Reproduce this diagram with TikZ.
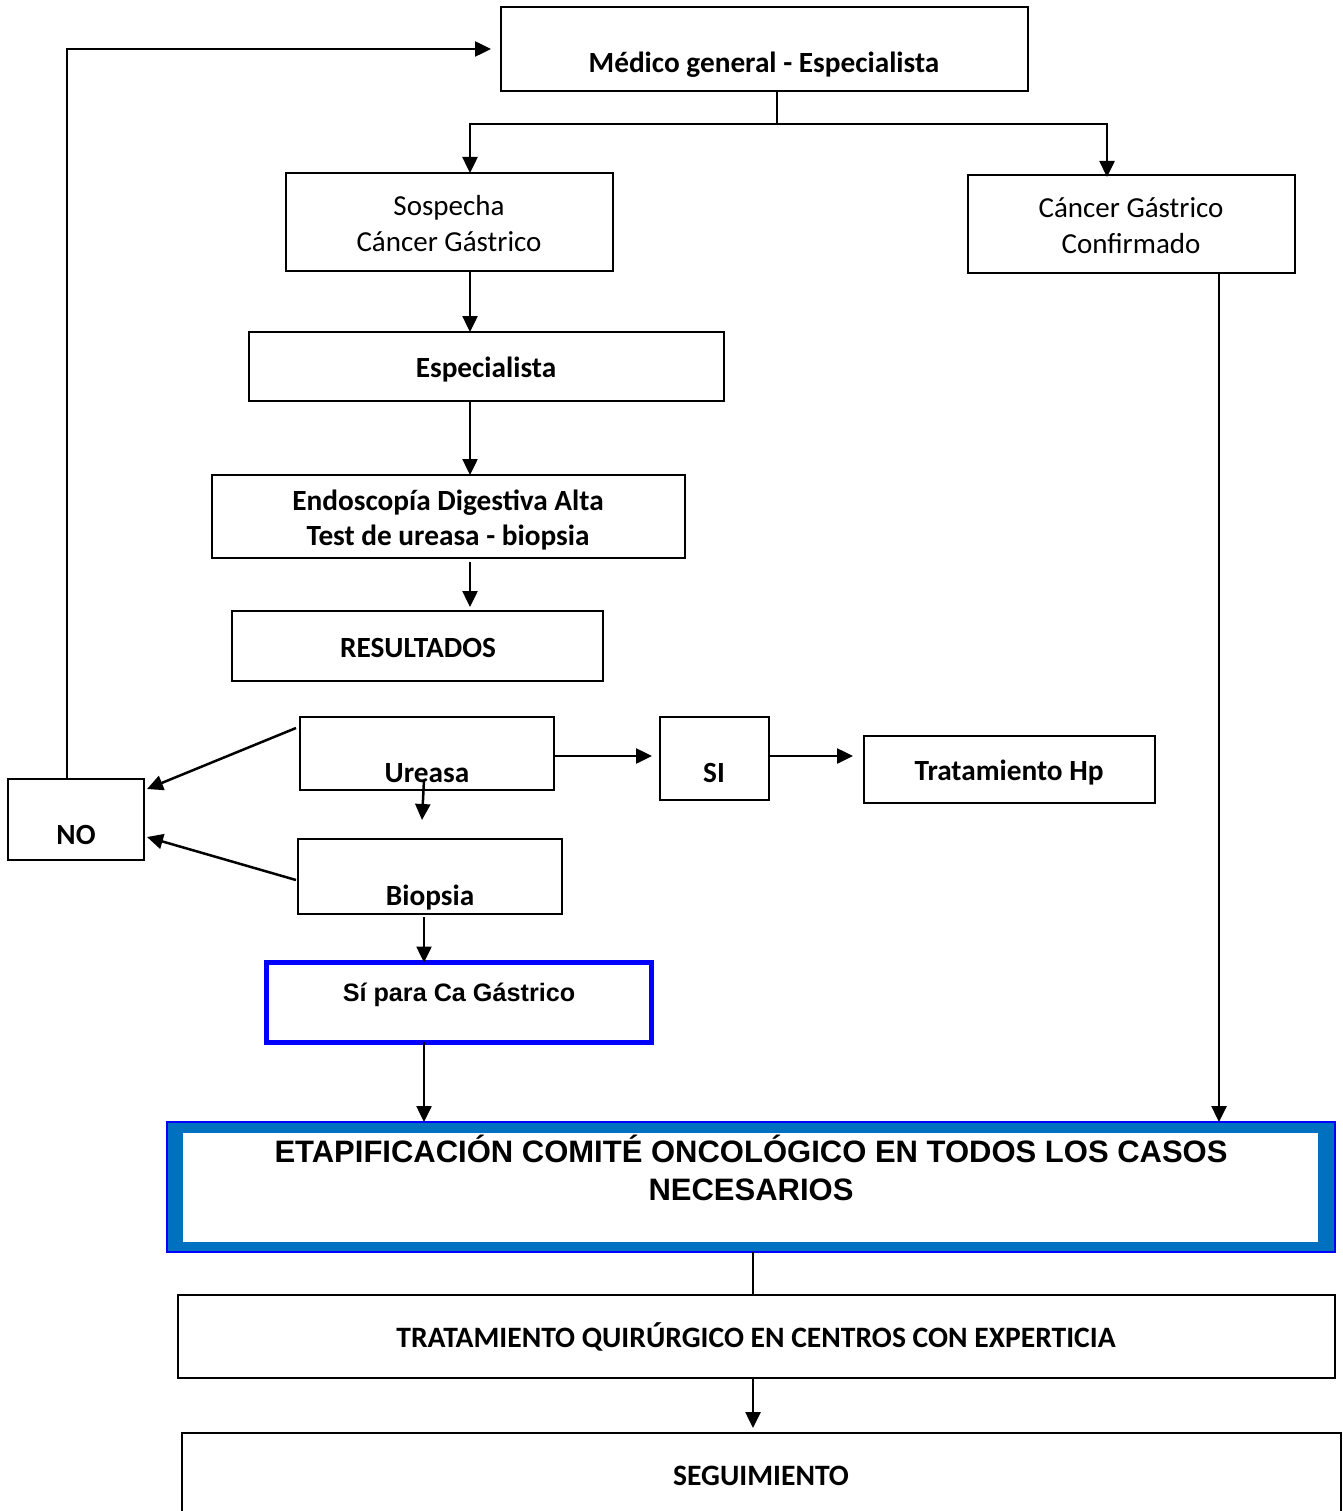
\documentclass[tikz,border=0pt]{standalone}
\usepackage{fontspec}
\setmainfont{Carlito}
\newfontfamily\arialfont{Liberation Sans}
\usetikzlibrary{arrows.meta,calc}
\definecolor{frameblue}{RGB}{0,0,255}
\definecolor{bandblue}{RGB}{0,112,192}

\begin{document}
\begin{tikzpicture}[x=1pt,y=-1pt,
  box/.style={draw, line width=2pt, inner sep=0pt, outer sep=0pt},
  lbl/.style={inner sep=0pt, anchor=base, font=\fontsize{29.3}{35}\selectfont\bfseries},
  lblr/.style={inner sep=0pt, anchor=base, font=\fontsize{29}{35}\selectfont},
  lbla/.style={inner sep=0pt, anchor=base, font=\arialfont\fontsize{25.2}{30}\selectfont\bfseries},
  lblbig/.style={inner sep=0pt, anchor=base, font=\arialfont\fontsize{31}{36}\selectfont\bfseries},
  lblwide/.style={inner sep=0pt, anchor=base, font=\fontsize{29.6}{35}\selectfont\bfseries},
  conn/.style={line width=2.5pt},
  arr/.style={conn, -{Triangle[length=16pt,width=15pt]}}]

\fill[white] (0,0) rectangle (1342,1511);
\useasboundingbox (0,0) rectangle (1342,1511);

% boxes
\node[box, minimum width=527pt, minimum height=84pt] (medico) at (764.5,49) {};
\node[box, minimum width=327pt, minimum height=98pt] (sosp) at (449.5,222) {};
\node[box, minimum width=327pt, minimum height=98pt] (conf) at (1131.5,224) {};
\node[box, minimum width=475pt, minimum height=69pt] (esp) at (486.5,366.5) {};
\node[box, minimum width=473pt, minimum height=83pt] (endo) at (448.5,516.5) {};
\node[box, minimum width=371pt, minimum height=70pt] (res) at (417.5,646) {};
\node[box, minimum width=254pt, minimum height=73pt] (ure) at (427,753.5) {};
\node[box, minimum width=109pt, minimum height=83pt] (si) at (714.5,758.5) {};
\node[box, minimum width=291pt, minimum height=67pt] (hp) at (1009.5,769.5) {};
\node[box, minimum width=136pt, minimum height=81pt] (no) at (76,819.5) {};
\node[box, minimum width=264pt, minimum height=75pt] (bio) at (430,876.5) {};
\node[box, draw=frameblue, line width=5pt, minimum width=385pt, minimum height=79.5pt] (sica) at (459,1002.25) {};
\node[box, draw=frameblue, fill=bandblue, minimum width=1168pt, minimum height=130pt] (etap) at (751,1187) {};
\node[inner sep=0pt, outer sep=0pt, fill=white, minimum width=1135pt, minimum height=109pt] (etapin) at (750.5,1187.5) {};
\node[box, minimum width=1157pt, minimum height=83pt] (trat) at (756.5,1336.5) {};
\node[box, minimum width=1159pt, minimum height=94pt] (seg) at (761.5,1480) {};

% labels
\node[lbl] (tmedico) at (764,72.5) {Médico general - Especialista};
\node[lblr] (tsosp1) at (449,215.5) {Sospecha};
\node[lblr] (tsosp2) at (449,251.5) {Cáncer Gástrico};
\node[lblr] (tconf1) at (1131,217.5) {Cáncer Gástrico};
\node[lblr] (tconf2) at (1131,253.5) {Confirmado};
\node[lbl] (tesp) at (486,377) {Especialista};
\node[lbl] (tendo1) at (448,510) {Endoscopía Digestiva Alta};
\node[lbl] (tendo2) at (448,545) {Test de ureasa - biopsia};
\node[lbl] (tres) at (418,657) {RESULTADOS};
\node[lbl] (ture) at (427,782) {Ureasa};
\node[lbl] (tsi) at (714,782) {SI};
\node[lbl] (thp) at (1009,780) {Tratamiento Hp};
\node[lbl] (tno) at (76,844) {NO};
\node[lbl] (tbio) at (430,905) {Biopsia};
\node[lbla] (tsica) at (459,1001) {Sí para Ca Gástrico};
\node[lblbig] (tetap1) at (751,1162) {ETAPIFICACIÓN COMITÉ ONCOLÓGICO EN TODOS LOS CASOS};
\node[lblbig] (tetap2) at (751,1200) {NECESARIOS};
\node[lblwide] (ttrat) at (756,1347) {TRATAMIENTO QUIRÚRGICO EN CENTROS CON EXPERTICIA};
\node[lblwide] (tseg) at (761,1485) {SEGUIMIENTO};

% connector columns and rows
\coordinate (split) at (777,124);
\coordinate (c470) at (470,0);
\coordinate (c1107) at (1107,0);
\coordinate (c424) at (424,0);
\coordinate (c1219) at (1219,0);
\coordinate (c753) at (753,0);
\coordinate (c67) at (67,0);
\coordinate (r756) at (0,756);

% connectors
\draw[conn] (medico.south -| split) -- (split);
\draw[arr] (split) -| (sosp.north -| c470);
\draw[arr] (split) -| ([yshift=-2pt]conf.north -| c1107);
\draw[arr] (sosp.south -| c470) -- (esp.north -| c470);
\draw[arr] (esp.south -| c470) -- (endo.north -| c470);
\draw[arr, shorten <=4pt, shorten >=4pt] (endo.south -| c470) -- (res.north -| c470);
\draw[arr, shorten >=8pt] (ure.east |- r756) -- (si.west |- r756);
\draw[arr, shorten >=11pt] (si.east |- r756) -- (hp.west |- r756);
\draw[arr] ([shift={(-4pt,-11pt)}]ure.north west) -- ([shift={(3pt,-10pt)}]no.north east);
\draw[arr] ([shift={(-2pt,-3.5pt)}]bio.west) -- ([shift={(3pt,-17.5pt)}]no.east);
\draw[arr] ([shift={(-3pt,-63pt)}]ure.north) -- ([shift={(-8pt,19pt)}]bio.north);
\draw[arr, shorten <=3pt] (bio.south -| c424) -- (sica.north -| c424);
\draw[arr] (sica.south -| c424) -- (etap.north -| c424);
\draw[arr] (conf.south -| c1219) -- (etap.north -| c1219);
\draw[conn] (etap.south -| c753) -- (trat.north -| c753);
\draw[arr, shorten >=5pt] (trat.south -| c753) -- (seg.north -| c753);
\draw[arr, shorten >=10pt] (no.north -| c67) |- (medico.west);

\end{tikzpicture}
\end{document}
